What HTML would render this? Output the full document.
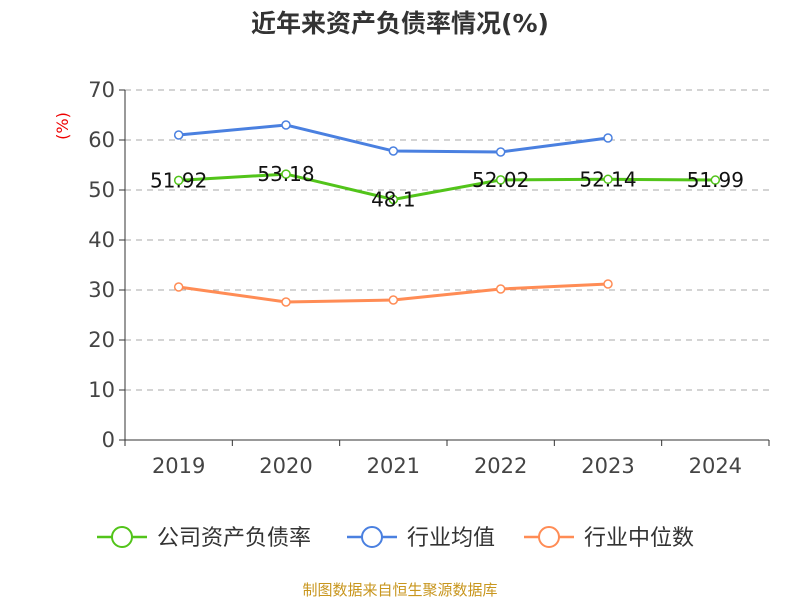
<!DOCTYPE html>
<html><head><meta charset="utf-8"><style>
body{margin:0;background:#fff;font-family:"DejaVu Sans","Noto Sans CJK SC",sans-serif}
</style></head><body>
<svg id="c" width="800" height="600" font-family="DejaVu Sans, Noto Sans CJK SC, sans-serif">
<text x="400" y="32" text-anchor="middle" font-size="25" font-weight="bold" fill="#333">近年来资产负债率情况(%)</text>
<text transform="translate(68,126) rotate(-90)" text-anchor="middle" font-size="16" fill="#e00">(%)</text>
<g id="grid"></g><g id="axes"></g><g id="series"></g>
<g>
<g><line x1="97" y1="537" x2="147" y2="537" stroke="#52c41a" stroke-width="2.5"/><circle cx="122" cy="537" r="10" fill="#fff" stroke="#52c41a" stroke-width="2"/><text x="157" y="545" font-size="22" fill="#333">公司资产负债率</text></g>
<g><line x1="347" y1="537" x2="397" y2="537" stroke="#4a80e0" stroke-width="2.5"/><circle cx="372" cy="537" r="10" fill="#fff" stroke="#4a80e0" stroke-width="2"/><text x="407" y="545" font-size="22" fill="#333">行业均值</text></g>
<g><line x1="524" y1="537" x2="574" y2="537" stroke="#ff8c55" stroke-width="2.5"/><circle cx="549" cy="537" r="10" fill="#fff" stroke="#ff8c55" stroke-width="2"/><text x="584" y="545" font-size="22" fill="#333">行业中位数</text></g>
</g>
<text x="400" y="595" text-anchor="middle" font-size="15" fill="#c8961e">制图数据来自恒生聚源数据库</text>
</svg>
<script>
const categories=["2019","2020","2021","2022","2023","2024"];
const companyValues=[51.92,53.18,48.1,52.02,52.14,51.99];
const companyLabels=["51.92","53.18","48.1","52.02","52.14","51.99"];
const industryMean=[61,63,57.8,57.6,60.4];
const industryMedian=[30.6,27.6,28,30.2,31.2];
const yTicks=[0,10,20,30,40,50,60,70];
const NS="http://www.w3.org/2000/svg";
const x0=125,x1=769,y0=440,y1=90,yMax=70;
const bw=(x1-x0)/categories.length;
const xs=i=>x0+bw*(i+0.5);
const ys=v=>y0-(v/yMax)*(y0-y1);
function mk(tag,attrs,parent){const e=document.createElementNS(NS,tag);for(const k in attrs)e.setAttribute(k,attrs[k]);parent.appendChild(e);return e;}
const grid=document.getElementById('grid'),axes=document.getElementById('axes'),ser=document.getElementById('series');
yTicks.forEach(t=>{const y=ys(t);
 if(t>0){const g=mk('line',{x1:x0,x2:x1,y1:y,y2:y,stroke:'#aaa','stroke-dasharray':'6,5'},grid);
 }
 const tk=mk('line',{x1:x0-6,x2:x0,y1:y,y2:y,stroke:'#333'},axes);
 
 const l=mk('text',{x:x0-10,y:y+7,'text-anchor':'end','font-size':21,fill:'#444'},axes);l.textContent=t;
 
});
const ya=mk('line',{x1:x0,x2:x0,y1:y1,y2:y0,stroke:'#333'},axes);

const xa=mk('line',{x1:x0,x2:x1,y1:y0,y2:y0,stroke:'#333'},axes);

for(let i=0;i<=categories.length;i++){const t=mk('line',{x1:x0+bw*i,x2:x0+bw*i,y1:y0,y2:y0+6,stroke:'#333'},axes);
 }
categories.forEach((c,i)=>{const l=mk('text',{x:xs(i),y:y0+33,'text-anchor':'middle','font-size':21,fill:'#444'},axes);l.textContent=c;
 });
function series(vals,color,name){
 const p=mk('polyline',{points:vals.map((v,i)=>xs(i)+','+ys(v)).join(' '),fill:'none',stroke:color,'stroke-width':3},ser);
 
 vals.forEach((v,i)=>{const c=mk('circle',{cx:xs(i),cy:ys(v),r:4,fill:'#fff',stroke:color,'stroke-width':1.5},ser);
 });
}
series(industryMedian,'#ff8c55','industry-median');
series(industryMean,'#4a80e0','industry-mean');
series(companyValues,'#52c41a','company');
companyValues.forEach((v,i)=>{const l=mk('text',{x:xs(i),y:ys(v)+7,'text-anchor':'middle','font-size':20,fill:'#111'},ser);l.textContent=companyLabels[i];
 });
</script>
</body></html>
